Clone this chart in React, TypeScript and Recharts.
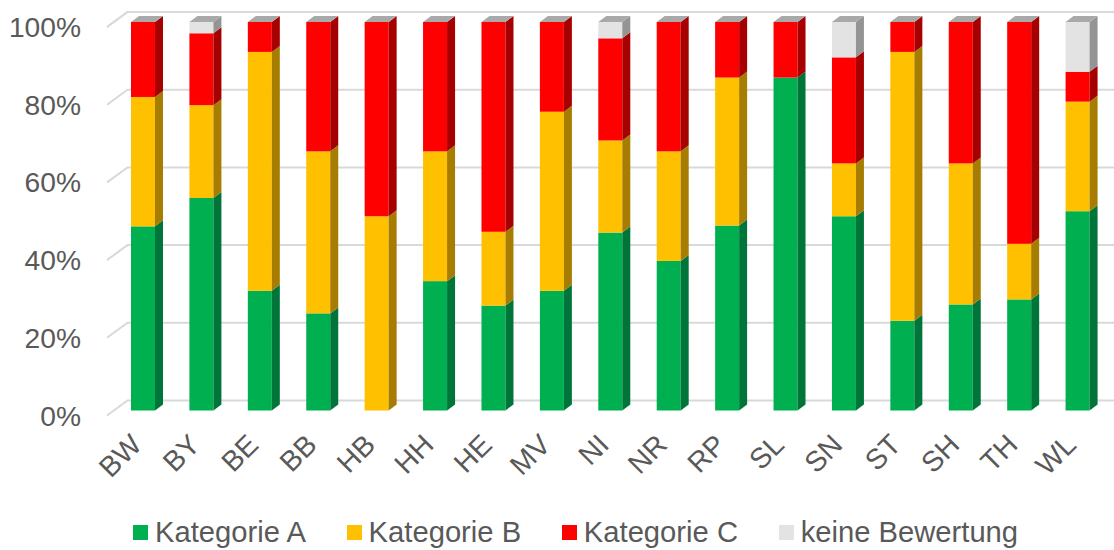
import { BarChart, Bar, XAxis, YAxis, CartesianGrid, Legend } from 'recharts';

const STATES = ['BW', 'BY', 'BE', 'BB', 'HB', 'HH', 'HE', 'MV', 'NI', 'NR', 'RP', 'SL', 'SN', 'ST', 'SH', 'TH', 'WL'];
const KAT_A = [47.4, 54.7, 30.8, 25, 0, 33.3, 27, 30.8, 45.8, 38.5, 47.6, 85.7, 50, 23.1, 27.3, 28.6, 51.3];
const KAT_B = [33.3, 23.9, 61.5, 41.7, 50, 33.4, 19, 46.1, 23.7, 28.2, 38.1, 0, 13.6, 69.2, 36.3, 14.3, 28.2];
const KAT_C = [19.3, 18.5, 7.7, 33.3, 50, 33.3, 54, 23.1, 26.3, 33.3, 14.3, 14.3, 27.3, 7.7, 36.4, 57.1, 7.7];
const KEINE = [0, 2.9, 0, 0, 0, 0, 0, 0, 4.2, 0, 0, 0, 9.1, 0, 0, 0, 12.8];
const Y_TICKS = [0, 20, 40, 60, 80, 100];

const FONT = '"Liberation Sans", Arial, sans-serif';
const TEXT_COLOR = '#595959';
const GRID_COLOR = '#d9d9d9';

const FRONT_COLORS: Record<string, string> = {
  a: '#00b050',
  b: '#ffc000',
  c: '#ff0000',
  none: '#e3e3e3',
};
const SIDE_COLORS: Record<string, string> = {
  a: '#00753a',
  b: '#a67d00',
  c: '#a60000',
  none: '#949494',
};
const TOP_COLOR = '#a9a9a9';

// fake 3D depth of the excel columns
const DEPTH_X = 8;
const DEPTH_Y = 6;

const chartData = STATES.map((name, i) => ({
  name,
  a: KAT_A[i],
  b: KAT_B[i],
  c: KAT_C[i],
  none: KEINE[i],
}));

function Column3D({ x, y, width, height, dataKey }: any) {
  const key = String(dataKey);
  const right = x + width;
  return (
    <g>
      {height > 0 && (
        <>
          <rect x={x} y={y} width={width} height={height} fill={FRONT_COLORS[key]} />
          <polygon
            points={`${right},${y} ${right + DEPTH_X},${y - DEPTH_Y} ${right + DEPTH_X},${y + height - DEPTH_Y} ${right},${y + height}`}
            fill={SIDE_COLORS[key]}
          />
        </>
      )}
      {key === 'none' && (
        <polygon
          points={`${x},${y} ${x + DEPTH_X},${y - DEPTH_Y} ${right + DEPTH_X},${y - DEPTH_Y} ${right},${y}`}
          fill={TOP_COLOR}
        />
      )}
    </g>
  );
}

function WallLine({ x1, y1, x2, key }: any) {
  const pts = `${x1 - 7},${y1 + 5} ${x1 + 13.5},${y1 - 10} ${x2 + 7},${y1 - 10}`;
  return <polyline key={key} points={pts} fill="none" stroke={GRID_COLOR} strokeWidth={2} />;
}

function YTick({ y, payload }: any) {
  return (
    <text x={81} y={y + 15} textAnchor="end" fontSize={28.2} fontFamily={FONT} fill={TEXT_COLOR}>
      {payload.value}%
    </text>
  );
}

function XTick({ x, y, payload }: any) {
  return (
    <text
      x={0}
      y={0}
      textAnchor="end"
      fontSize={28.5}
      fontFamily={FONT}
      fill={TEXT_COLOR}
      transform={`translate(${x},${y + 28}) rotate(-45)`}
    >
      {payload.value}
    </text>
  );
}

function LegendRow({ payload }: any) {
  return (
    <div style={{ display: 'flex', height: 40, paddingLeft: 133, fontFamily: FONT, fontSize: 29.2, color: TEXT_COLOR }}>
      {(payload || []).map((item: any) => (
        <div key={item.value} style={{ display: 'flex', alignItems: 'center', marginRight: 40.7, height: 44 }}>
          <span style={{ width: 15, height: 15, background: item.color, marginRight: 7, display: 'inline-block' }} />
          <span>{item.value}</span>
        </div>
      ))}
    </div>
  );
}

export default function App() {
  return (
    <div style={{ position: 'absolute', left: 0, top: 0, width: 1114, height: 550 }}>
      <BarChart
        width={1114}
        height={550}
        data={chartData}
        margin={{ top: 22, right: 7, bottom: 0, left: 0 }}
      >
        <CartesianGrid vertical={false} horizontal={(props: any) => <WallLine {...props} />} />
        <XAxis dataKey="name" height={99.5} interval={0} axisLine={false} tickLine={false} tick={<XTick />} />
        <YAxis
          width={114}
          domain={[0, 100]}
          ticks={Y_TICKS}
          axisLine={false}
          tickLine={false}
          tick={<YTick />}
        />
        <Legend verticalAlign="bottom" content={<LegendRow />} />
        <Bar dataKey="a" name="Kategorie A" stackId="s" fill={FRONT_COLORS.a} barSize={24} shape={<Column3D dataKey="a" />} isAnimationActive={false} />
        <Bar dataKey="b" name="Kategorie B" stackId="s" fill={FRONT_COLORS.b} barSize={24} shape={<Column3D dataKey="b" />} isAnimationActive={false} />
        <Bar dataKey="c" name="Kategorie C" stackId="s" fill={FRONT_COLORS.c} barSize={24} shape={<Column3D dataKey="c" />} isAnimationActive={false} />
        <Bar dataKey="none" name="keine Bewertung" stackId="s" fill={FRONT_COLORS.none} barSize={24} shape={<Column3D dataKey="none" />} isAnimationActive={false} />
      </BarChart>
    </div>
  );
}
